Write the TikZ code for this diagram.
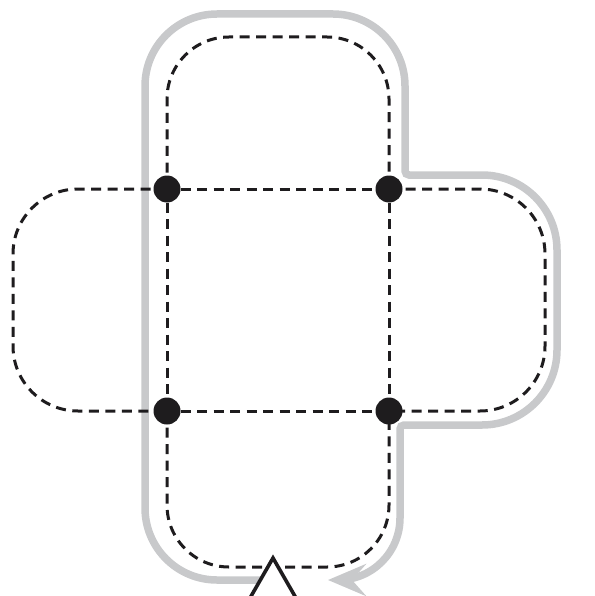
\documentclass[tikz,border=0pt]{standalone}
\usetikzlibrary{arrows.meta}
\definecolor{pathgray}{RGB}{200,201,203}
\definecolor{ink}{RGB}{30,28,30}
\begin{document}
\begin{tikzpicture}[x=1pt,y=-1pt,
  dashline/.style={draw=ink,line width=3pt,dash pattern=on 10pt off 6.5pt},
  tour/.style={draw=pathgray,line width=7.5pt,-{Stealth[length=38pt,width=32pt,inset=14pt]}},
  joint/.style={circle,fill=ink,inner sep=0pt,minimum size=27pt},
  startmark/.style={draw=ink,fill=white,line width=3.6pt,line join=miter}]
\useasboundingbox (0,0) rectangle (594,596);
% tour path
\draw[tour] (275,580) [rounded corners=72] -- (145,580) -- (145,14) -- (405,14)
  [rounded corners=4] -- (405,175) [rounded corners=75] -- (557,175) -- (557,425)
  [rounded corners=4] -- (400,425) [rounded corners=62] -- (400,580) -- (328,580);
% dashed lobes
\draw[dashline,rounded corners=62] (167,189) -- (167,37) -- (389,37) -- (389,189);
\draw[dashline,rounded corners=65] (167,189) -- (13,189) -- (13,411) -- (167,411);
\draw[dashline,rounded corners=65] (389,189) -- (545,189) -- (545,411) -- (389,411);
\draw[dashline,rounded corners=62] (167,411) -- (167,567) -- (389,567) -- (389,411);
% joints
\node[joint] (a) at (167,189) {};
\node[joint] (b) at (389,189) {};
\node[joint] (c) at (167,411) {};
\node[joint] (d) at (389,411) {};
\draw[dashline] (a) -- (b);
\draw[dashline] (c) -- (d);
\draw[dashline] (a) -- (c);
\draw[dashline] (b) -- (d);
% start marker
\draw[startmark] (273,558) -- (296,598) -- (250,598) -- cycle;
\end{tikzpicture}
\end{document}
